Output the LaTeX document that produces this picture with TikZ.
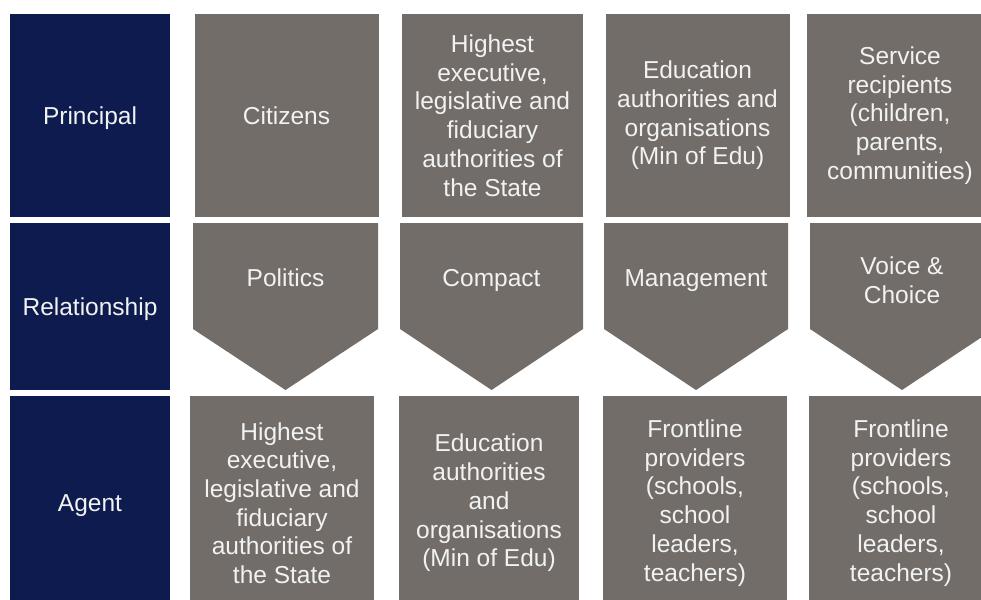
\documentclass[tikz,border=0pt]{standalone}
\usepackage{fontspec}
\setmainfont{Liberation Sans}
\usetikzlibrary{positioning}
\definecolor{navy}{RGB}{13,27,78}
\definecolor{slate}{RGB}{114,109,105}
\tikzset{every node/.style={font=\fontsize{24.5}{28.7}\selectfont,text=white!95!black,align=center},
         head/.style={fill=navy,inner sep=0pt,minimum width=160pt,text depth=0pt},
         cell/.style={fill=slate,inner sep=0pt,minimum width=184pt},
         tag/.style={inner sep=0pt},
         oneline/.style={text depth=0pt},
         chev/.style={fill=slate},
         }

\begin{document}
\begin{tikzpicture}[x=1pt,y=-1pt]
\useasboundingbox (0,0) rectangle (981,599);
\clip (0,0) rectangle (981,599);
\fill[white] (0,0) rectangle (981,599);
% left headers
\node[head,minimum height=203pt] (principal) at (90,115.5) {Principal};
\node[head,minimum height=167pt] (relationship) at (90,306.5) {Relationship};
\node[head,minimum height=214pt] (agent) at (90,503) {Agent};
% principals
\node[cell,minimum height=203pt] (p1) at (286.5,115.5) {Citizens};
\node[cell,minimum height=203pt,minimum width=181pt] (p2) at (492.5,115.5)
  {Highest\\executive,\\legislative and\\fiduciary\\authorities of\\the State};
\node[cell,minimum height=203pt] (p3) at (697.5,115.5)
  {Education\\authorities and\\organisations\\(Min of Edu)};
\node[cell,minimum height=203pt,minimum width=186pt] (p4) at (900,115.5)
  {Service\\recipients\\(children,\\parents,\\communities)};
% relationships
\fill[chev] (193,223) -- (378,223) -- (378,329) -- (285.5,390) -- (193,329) -- cycle;
\fill[chev] (400,223) -- (583,223) -- (583,329) -- (491.5,390) -- (400,329) -- cycle;
\fill[chev] (604,223) -- (788,223) -- (788,329) -- (696,390) -- (604,329) -- cycle;
\fill[chev] (810,223) -- (994,223) -- (994,329) -- (902,390) -- (810,329) -- cycle;
\node[tag,oneline] (r1) at (285.5,278) {Politics};
\node[tag,oneline] (r2) at (491.5,278) {Compact};
\node[tag,oneline] (r3) at (696,278) {Management};
\node[tag] (r4) at (902,280) {Voice \&\\Choice};
% agents
\node[cell,minimum height=214pt] (a1) at (282,503)
  {Highest\\executive,\\legislative and\\fiduciary\\authorities of\\the State};
\node[cell,minimum height=214pt,minimum width=180pt] (a2) at (489,503)
  {Education\\authorities\\and\\organisations\\(Min of Edu)};
\node[cell,minimum height=214pt] (a3) at (695,503)
  {Frontline\\providers\\(schools,\\school\\leaders,\\teachers)};
\node[cell,minimum height=214pt] (a4) at (901,503)
  {Frontline\\providers\\(schools,\\school\\leaders,\\teachers)};
\end{tikzpicture}
\end{document}
